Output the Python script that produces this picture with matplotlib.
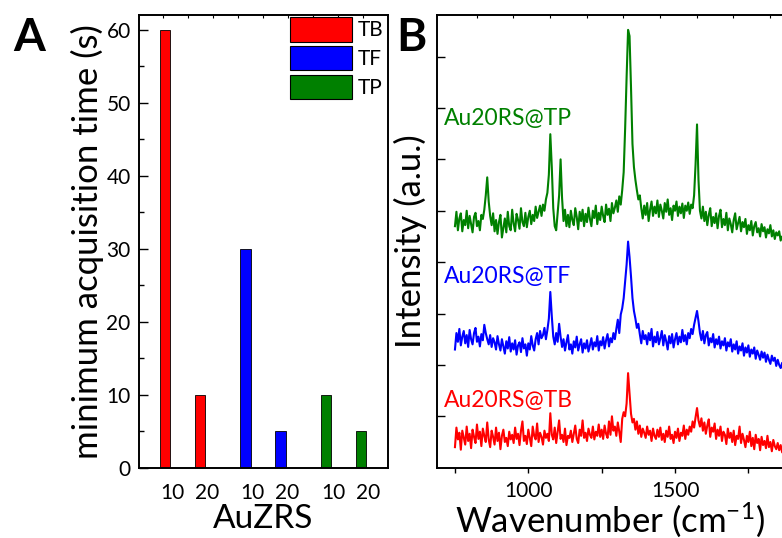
import matplotlib
matplotlib.use("Agg")
import matplotlib.pyplot as plt
import matplotlib.patches as mpatches
import numpy as np

plt.rcParams['font.family'] = ['Lato', 'DejaVu Sans']
plt.rcParams['mathtext.fontset'] = 'custom'
plt.rcParams['mathtext.rm'] = 'Lato'
plt.rcParams['mathtext.default'] = 'regular'

# ---- panel A data ----
dyes = ["TB", "TF", "TP"]
dye_colors = ["#FF0000", "#0000FF", "#008000"]
auzrs_labels = ["10", "20", "10", "20", "10", "20"]
bar_pos = [1, 2, 3.3, 4.3, 5.6, 6.6]
acq_time = [60, 10, 30, 5, 10, 5]
bar_dye = [0, 0, 1, 1, 2, 2]

# ---- panel B data (Raman spectra, stacked, a.u.) ----
wavenumber = np.arange(750, 1871, 5)

tp_int = [4.70, 4.98, 4.62, 4.85, 4.95, 4.60, 4.82, 4.72, 5.00, 4.66,   # 750
          4.90, 4.74, 4.58, 4.88, 4.96, 4.70, 4.80, 4.62, 4.92, 4.84,   # 800
          5.02, 5.30, 5.65, 5.18, 4.90, 4.72, 4.95, 4.60, 4.82, 4.55,   # 850
          4.78, 4.92, 4.48, 4.66, 4.85, 4.58, 4.98, 4.70, 4.62, 5.02,   # 900
          4.75, 4.60, 4.94, 4.82, 4.65, 5.05, 4.78, 4.70, 4.96, 4.68,   # 950
          4.88, 5.00, 4.74, 4.92, 4.80, 5.08, 4.86, 4.98, 5.10, 4.90,   # 1000
          5.12, 5.00, 5.22, 5.35, 5.70, 6.49, 5.85, 5.05, 4.70, 4.62,   # 1050
          4.95, 5.30, 6.00, 5.25, 4.80, 5.02, 4.70, 4.92, 4.68, 5.00,   # 1100
          4.82, 4.72, 5.05, 4.88, 4.64, 4.98, 4.80, 5.02, 4.70, 4.94,   # 1150
          4.78, 5.06, 4.84, 4.70, 5.00, 4.86, 5.10, 4.74, 4.96, 4.82,   # 1200
          5.08, 4.90, 4.78, 5.12, 4.92, 5.04, 4.80, 5.15, 4.95, 5.06,   # 1250
          5.20, 4.98, 5.28, 5.12, 5.40, 5.75, 6.60, 7.60, 8.52, 8.40,   # 1300
          7.40, 6.30, 5.85, 5.60, 5.40, 5.22, 5.30, 5.05, 4.85, 5.10,   # 1350
          4.92, 5.15, 4.80, 5.02, 5.18, 4.90, 5.08, 4.95, 5.20, 4.88,   # 1400
          5.12, 5.00, 4.85, 5.15, 4.98, 5.22, 4.92, 5.05, 4.82, 5.10,   # 1450
          5.00, 5.18, 4.90, 5.08, 4.95, 5.14, 4.86, 5.10, 5.00, 5.16,   # 1500
          4.94, 5.12, 5.05, 5.30, 5.90, 6.68, 5.60, 5.00, 4.85, 5.08,   # 1550
          4.80, 4.98, 4.72, 4.92, 5.05, 4.70, 4.88, 4.76, 4.95, 4.66,   # 1600
          4.90, 5.02, 4.68, 4.84, 4.72, 4.96, 4.62, 4.85, 4.74, 4.58,   # 1650
          4.82, 4.95, 4.64, 4.76, 4.88, 4.60, 4.78, 4.68, 4.84, 4.55,   # 1700
          4.72, 4.62, 4.80, 4.52, 4.70, 4.78, 4.58, 4.66, 4.50, 4.74,   # 1750
          4.60, 4.68, 4.48, 4.64, 4.56, 4.72, 4.50, 4.62, 4.45, 4.58,   # 1800
          4.52, 4.60, 4.42, 4.50, 4.40]                                 # 1850

tf_int = [2.30, 2.62, 2.45, 2.70, 2.38, 2.55, 2.66, 2.42, 2.58, 2.35,
          2.68, 2.50, 2.40, 2.62, 2.72, 2.45, 2.55, 2.36, 2.60, 2.48,
          2.78, 2.62, 2.50, 2.40, 2.58, 2.35, 2.52, 2.44, 2.30, 2.56,
          2.40, 2.28, 2.50, 2.36, 2.22, 2.46, 2.32, 2.54, 2.26, 2.42,
          2.30, 2.48, 2.20, 2.38, 2.44, 2.25, 2.52, 2.32, 2.40, 2.18,
          2.42, 2.30, 2.56, 2.38, 2.28, 2.50, 2.62, 2.40, 2.66, 2.52,
          2.58, 2.72, 2.50, 2.68, 2.90, 3.42, 2.95, 2.55, 2.40, 2.62,
          2.45, 2.80, 2.55, 2.35, 2.50, 2.28, 2.44, 2.58, 2.30, 2.40,
          2.22, 2.46, 2.34, 2.55, 2.28, 2.40, 2.50, 2.24, 2.42, 2.32,
          2.48, 2.26, 2.38, 2.52, 2.30, 2.44, 2.36, 2.56, 2.28, 2.46,
          2.38, 2.54, 2.32, 2.48, 2.60, 2.36, 2.52, 2.44, 2.62, 2.50,
          2.70, 2.88, 2.62, 2.98, 3.10, 3.30, 3.62, 3.95, 4.40, 4.10,
          3.72, 3.30, 3.05, 2.90, 2.72, 2.80, 2.60, 2.42, 2.66, 2.50,
          2.58, 2.40, 2.62, 2.48, 2.70, 2.36, 2.55, 2.44, 2.64, 2.40,
          2.52, 2.66, 2.38, 2.58, 2.46, 2.30, 2.56, 2.42, 2.60, 2.34,
          2.50, 2.62, 2.40, 2.55, 2.44, 2.68, 2.46, 2.58, 2.40, 2.62,
          2.52, 2.70, 2.60, 2.78, 2.92, 3.05, 2.85, 2.62, 2.48, 2.66,
          2.42, 2.58, 2.64, 2.38, 2.52, 2.44, 2.60, 2.34, 2.50, 2.40,
          2.55, 2.32, 2.46, 2.38, 2.52, 2.28, 2.44, 2.36, 2.50, 2.26,
          2.40, 2.30, 2.46, 2.22, 2.36, 2.28, 2.42, 2.18, 2.34, 2.24,
          2.38, 2.16, 2.30, 2.22, 2.34, 2.12, 2.28, 2.20, 2.10, 2.26,
          2.14, 2.24, 2.06, 2.20, 2.10, 2.02, 2.18, 2.08, 2.14, 1.98,
          2.10, 2.00, 1.94, 2.04, 1.85]

tb_int = [0.40, 0.78, 0.55, 0.68, 0.35, 0.72, 0.58, 0.45, 0.80, 0.52,
          0.66, 0.38, 0.74, 0.60, 0.48, 0.84, 0.56, 0.70, 0.42, 0.76,
          0.62, 0.50, 0.88, 0.55, 0.40, 0.72, 0.60, 0.45, 0.78, 0.52,
          0.68, 0.36, 0.62, 0.74, 0.50, 0.58, 0.42, 0.70, 0.55, 0.64,
          0.48, 0.78, 0.56, 0.66, 0.44, 0.72, 0.90, 0.52, 0.62, 0.46,
          0.74, 0.58, 0.42, 0.80, 0.62, 0.55, 0.86, 0.50, 0.68, 0.60,
          0.45, 0.72, 0.58, 0.66, 0.52, 1.06, 0.64, 0.55, 0.78, 0.48,
          0.70, 0.92, 0.56, 0.64, 0.50, 0.76, 0.44, 0.62, 0.58, 0.72,
          0.50, 0.66, 0.82, 0.56, 0.48, 0.74, 0.62, 0.92, 0.58, 0.68,
          0.52, 0.76, 0.64, 0.58, 0.80, 0.55, 0.70, 0.62, 0.84, 0.60,
          0.74, 0.56, 0.82, 0.66, 0.58, 0.90, 0.64, 1.00, 0.72, 0.80,
          0.62, 0.88, 0.70, 0.50, 0.95, 1.08, 1.00, 1.25, 1.84, 1.45,
          1.05, 0.88, 0.95, 0.74, 0.90, 0.66, 0.82, 0.60, 0.76, 0.68,
          0.58, 0.80, 0.64, 0.72, 0.52, 0.76, 0.62, 0.56, 0.74, 0.60,
          0.78, 0.54, 0.66, 0.50, 0.72, 0.60, 0.80, 0.56, 0.64, 0.48,
          0.70, 0.58, 0.76, 0.52, 0.68, 0.62, 0.82, 0.56, 0.74, 0.64,
          0.80, 0.70, 0.90, 0.78, 0.98, 1.16, 0.92, 0.80, 0.96, 0.72,
          0.88, 0.66, 0.82, 0.94, 0.60, 0.78, 0.70, 0.86, 0.56, 0.74,
          0.62, 0.80, 0.52, 0.70, 0.64, 0.46, 0.76, 0.58, 0.68, 0.50,
          0.72, 0.44, 0.62, 0.56, 0.80, 0.48, 0.66, 0.54, 0.40, 0.62,
          0.50, 0.70, 0.42, 0.58, 0.36, 0.64, 0.48, 0.56, 0.34, 0.60,
          0.44, 0.52, 0.38, 0.62, 0.40, 0.50, 0.32, 0.54, 0.42, 0.36,
          0.48, 0.34, 0.44, 0.30, 0.28]

spectra = [tb_int, tf_int, tp_int]
spectra_names = ["Au20RS@TB", "Au20RS@TF", "Au20RS@TP"]
name_y = [1.19, 3.59, 6.67]


fig = plt.figure(figsize=(7.82, 5.38), dpi=100)

# ---------------- panel A ----------------
axA = fig.add_axes([0.1777, 0.1310, 0.3184, 0.8410])

for i in range(len(bar_pos)):
	axA.bar(bar_pos[i], acq_time[i], width=0.29, color=dye_colors[bar_dye[i]],
		edgecolor="black", linewidth=0.6, zorder=2)
#end_for

axA.set_xlim(0.257, 7.37)
axA.set_ylim(0, 62)
axA.set_yticks(range(0, 61, 10))
axA.set_yticks(range(5, 61, 10), minor=True)
axA.set_xticks([p + 0.2 for p in bar_pos])
axA.set_xticklabels(auzrs_labels)
axA.tick_params(axis="y", which="major", direction="in", length=6.7, width=1.0, labelsize=15, pad=6)
axA.tick_params(axis="y", which="minor", direction="in", length=3.6, width=1.0)
axA.tick_params(axis="x", which="major", length=0, labelsize=15, pad=11)

# mirrored ticks along the top spine
topA = axA.secondary_xaxis("top")
topA.set_xticks(np.arange(0.951, 7.3, 0.714))
topA.tick_params(direction="in", length=2.5, width=0.8, labeltop=False)
topA.spines["top"].set_visible(False)

for s in axA.spines.values():
	s.set_linewidth(1.4)
#end_for

axA.set_xlabel("AuZRS", fontsize=24, labelpad=1)
axA.set_ylabel("minimum acquisition time (s)", fontsize=25, labelpad=2)

handles = []
for i in range(3):
	handles.append(mpatches.Patch(facecolor=dye_colors[i], edgecolor="black", linewidth=0.8, label=dyes[i]))
#end_for
axA.legend(handles=handles, loc="upper left", bbox_to_anchor=(0.606, 0.9956),
	frameon=False, fontsize=15, handlelength=2.98, handleheight=1.44,
	labelspacing=0.2, handletextpad=0.3, borderpad=0, borderaxespad=0)

# ---------------- panel B ----------------
axB = fig.add_axes([0.5592, 0.1307, 0.4408, 0.8405])

for i in range(3):
	axB.plot(wavenumber, spectra[i], color=dye_colors[i], linewidth=1.5)
	axB.text(711, name_y[i], spectra_names[i], color=dye_colors[i], fontsize=16.5, va="baseline", ha="left")
#end_for

axB.set_xlim(689.8, 1864.6)
axB.set_ylim(0, 8.8)
axB.set_xticks([1000, 1500])
axB.set_xticks([750, 1250, 1750], minor=True)
axB.set_yticks(range(1, 9))
axB.set_yticklabels([])
axB.tick_params(axis="x", which="both", direction="out", length=3.6, width=1.0, labelsize=15, pad=6)
axB.tick_params(axis="y", direction="in", length=5.8, width=1.0)

topB = axB.secondary_xaxis("top")
topB.set_xticks(np.arange(824, 1870, 125))
topB.tick_params(direction="in", length=2.5, width=0.8, labeltop=False)
topB.spines["top"].set_visible(False)

axB.spines["right"].set_visible(False)
for s in ["left", "bottom", "top"]:
	axB.spines[s].set_linewidth(1.4)
#end_for

axB.set_xlabel("Wavenumber (cm$^{-1}$)", fontsize=25, labelpad=0)
axB.set_ylabel("Intensity (a.u.)", fontsize=25, labelpad=4)

# panel letters
fig.text(13 / 782, 1 - 51 / 538, "A", fontsize=33, fontweight="bold", va="baseline")
fig.text(396 / 782, 1 - 51 / 538, "B", fontsize=33, fontweight="bold", va="baseline")

fig.savefig("out.png", dpi=100)
